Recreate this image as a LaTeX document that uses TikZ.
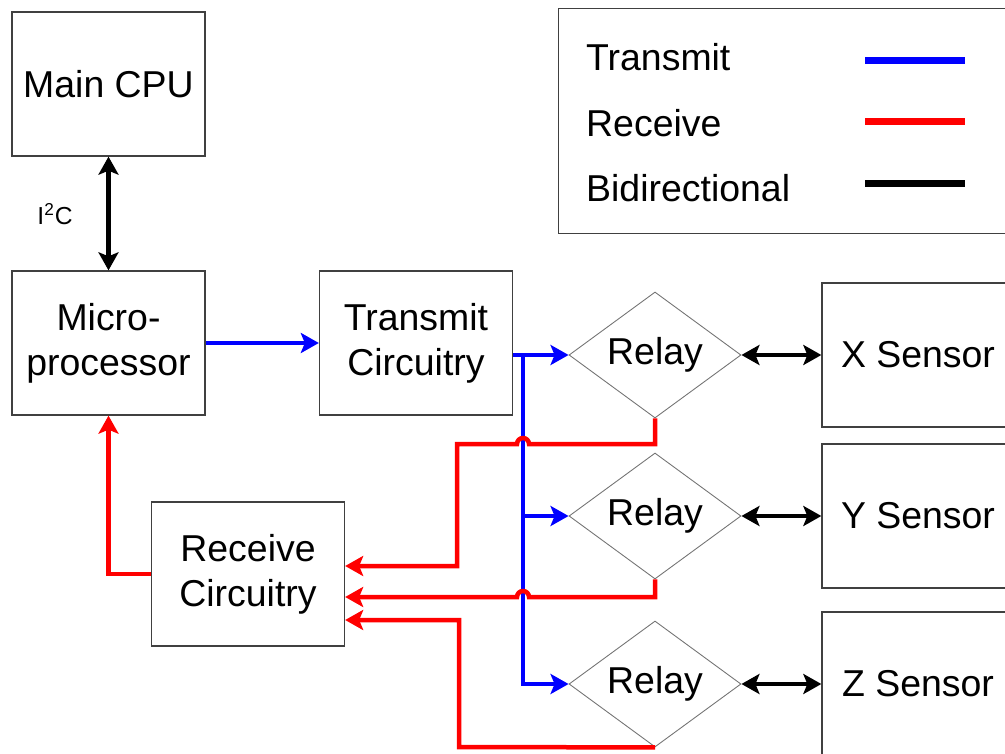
\documentclass[tikz,border=0pt]{standalone}
\usepackage{fontspec}
\setmainfont{Liberation Sans}
\usetikzlibrary{arrows.meta,shapes.geometric}

\begin{document}
\begin{tikzpicture}[
  font=\fontsize{21.3}{25.6}\selectfont,
  >={Stealth[length=3.6mm,width=4mm,inset=0.8mm]},
  box/.style={draw=black!75,line width=.75pt,minimum width=3.86cm,minimum height=2.88cm,align=center},
  relay/.style={draw=black!55,line width=.5pt,diamond,aspect=1.37,inner sep=0pt,minimum width=3.44cm,minimum height=2.52cm},
  txline/.style={->,blue,line width=.9mm},
  rxline/.style={->,red,line width=.9mm},
  biline/.style={<->,line width=.9mm},
  key/.style={line width=1.4mm}
]
\useasboundingbox (0,0) rectangle (20.1,15.06);

% processors
\node[box] (cpu) at (2.17,13.38) {Main CPU};
\node[box] (mcu) at (2.17,8.2) {Micro-\\processor};
\node[box] (txc) at (8.32,8.2) {Transmit\\Circuitry};
\node[box] (rxc) at (4.96,3.58) {Receive\\Circuitry};
\draw[biline] (cpu.south) -- (mcu.north);
\node[font=\fontsize{14}{16}\selectfont] (i2c) at (1.1,10.78) {I\textsuperscript{2}C};

% relays and sensors
\node[relay] (relX) at (13.1,7.96) {Relay};
\node[relay] (relY) at (13.1,4.74) {Relay};
\node[relay] (relZ) at (13.1,1.38) {Relay};
\node[box,minimum width=3.84cm] (sensX) at (18.36,7.96) {X Sensor};
\node[box,minimum width=3.84cm] (sensY) at (18.36,4.74) {Y Sensor};
\node[box,minimum width=3.84cm] (sensZ) at (18.36,1.38) {Z Sensor};
\draw[biline] (relX.east) -- (sensX.west);
\draw[biline] (relY.east) -- (sensY.west);
\draw[biline] (relZ.east) -- (sensZ.west);

% transmit path
\draw[txline] (mcu.east) -- (txc.west);
\draw[txline] (txc.east |- relX.west) -- (relX.west);
\coordinate (split) at (10.46,7.96);
\draw[txline] (split) |- (relZ.west);
\draw[txline] (split |- relY.west) -- (relY.west);

% receive path
\draw[rxline] (relX.south) -- (13.1,6.18) -- (10.58,6.18)
  arc[start angle=0,end angle=180,radius=0.12] -- (9.14,6.18) -- (9.14,3.74)
  -- (rxc.east |- 0,3.74);
\draw[rxline] (relY.south) -- (13.1,3.12) -- (10.58,3.12)
  arc[start angle=0,end angle=180,radius=0.12] -- (rxc.east |- 0,3.12);
\draw[rxline] (relZ.south) -- (9.18,0.12) -- (9.18,2.66) -- (rxc.east |- 0,2.66);
\draw[rxline] (rxc.west) -| (mcu.south);

% legend
\node[draw=black!75,line width=.75pt,minimum width=9.1cm,minimum height=4.5cm,anchor=north west] (legend) at (11.16,14.9) {};
\node[anchor=base west] (lgTx) at (11.6,13.64) {Transmit};
\node[anchor=base west] (lgRx) at (11.6,12.32) {Receive};
\node[anchor=base west] (lgBi) at (11.6,11.02) {Bidirectional};
\draw[key,blue] (17.3,13.84) -- (19.3,13.84);
\draw[key,red] (17.3,12.62) -- (19.3,12.62);
\draw[key,black] (17.3,11.38) -- (19.3,11.38);
\end{tikzpicture}
\end{document}
